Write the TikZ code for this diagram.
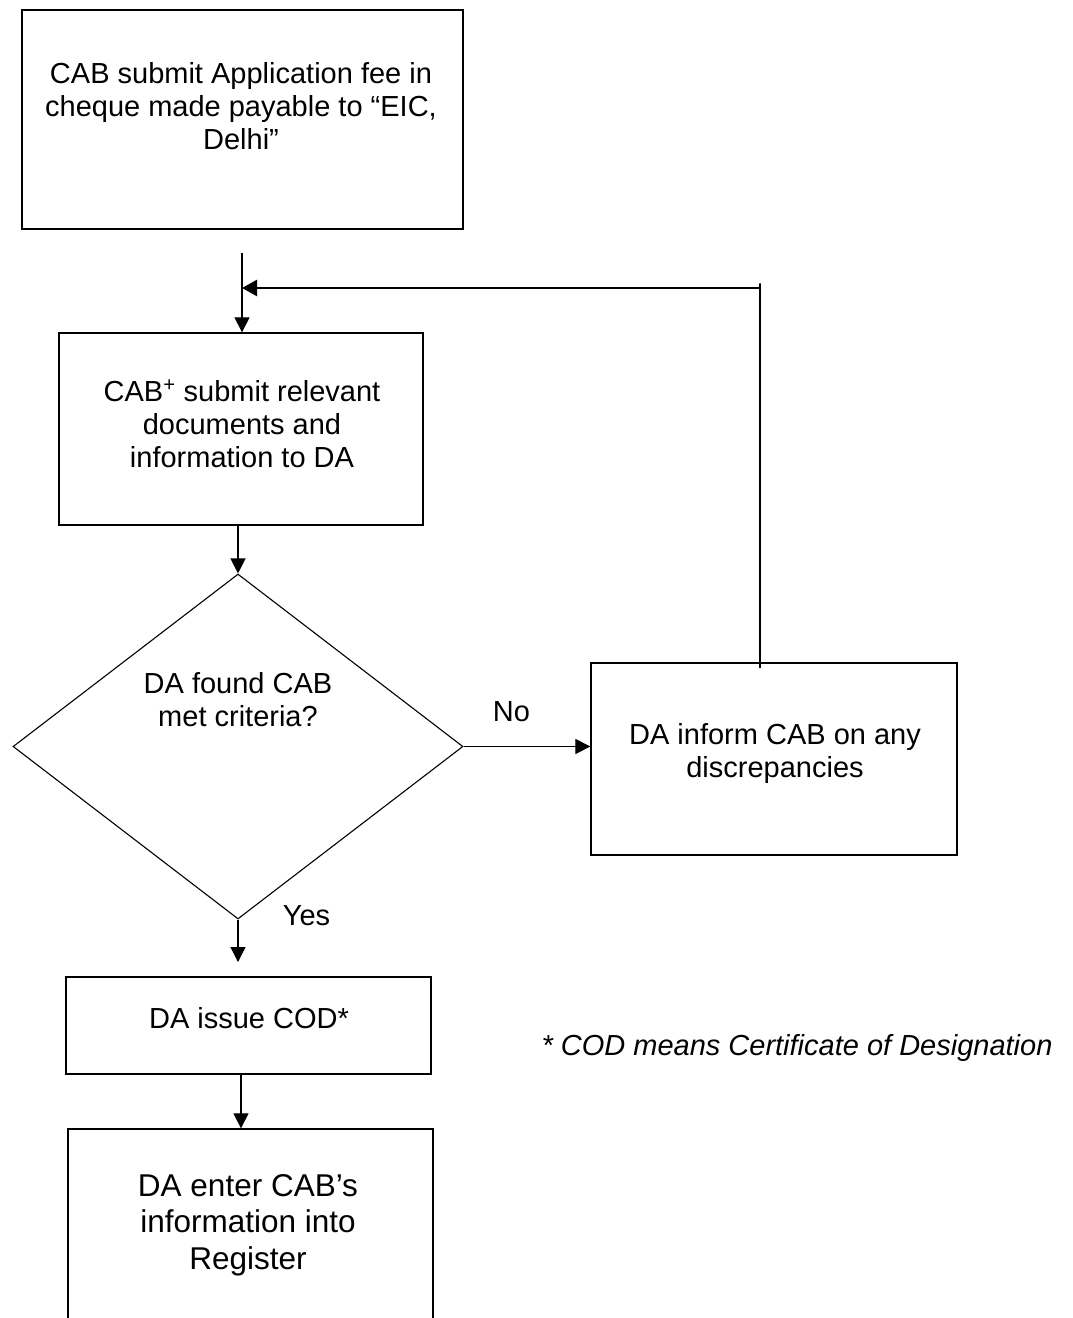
\documentclass[tikz,border=0pt]{standalone}
\usepackage{fontspec}
\setmainfont{Liberation Sans}
\usetikzlibrary{positioning,shapes.geometric,arrows.meta}
\begin{document}
\begin{tikzpicture}[x=1pt, y=-1pt,
   every node/.style={inner sep=0pt},
   box/.style={draw, line width=1.3pt},
   txt/.style={align=center, anchor=base, font=\fontsize{29pt}{33pt}\selectfont},
   big/.style={align=center, anchor=base, font=\fontsize{31.5pt}{36.5pt}\selectfont},
   arr/.style={line width=1.2pt, -{Triangle[length=15pt, width=15pt]}},
   fback/.style={line width=2.4pt, -{Triangle[length=15pt, width=16pt]}}]
\clip (0,0) rectangle (1073,1318);
\node[box, minimum width=441pt, minimum height=219pt] (fee) at (242.5,119.5) {};
\node[txt] (feetxt) at (241,149) {CAB submit Application fee in\\cheque made payable to “EIC,\\Delhi”};
\node[box, minimum width=364pt, minimum height=192pt] (docs) at (241,429) {};
\node[txt] (docstxt) at (242,467) {CAB\textsuperscript{+} submit relevant\\documents and\\information to DA};
\node[draw, diamond, line width=1.1pt, minimum width=450pt, minimum height=345pt] (dec) at (238,746.5) {};
\node[txt] (dectxt) at (238,726) {DA found CAB\\met criteria?};
\node[box, minimum width=366pt, minimum height=192pt] (disc) at (774,759) {};
\node[txt] (disctxt) at (775,777) {DA inform CAB on any\\discrepancies};
\node[box, minimum width=365pt, minimum height=97pt] (cod) at (248.5,1025.5) {};
\node[txt] (codtxt) at (249,1028) {DA issue COD*};
\node[box, minimum width=365pt, minimum height=230pt] (reg) at (250.5,1244) {};
\node[big] (regtxt) at (248,1269) {DA enter CAB’s\\information into\\Register};
\node[txt] (no) at (511.5,721) {No};
\node[txt] (yes) at (306.5,925) {Yes};
\node[txt, font=\fontsize{29pt}{33pt}\selectfont\itshape] (note) at (797,1055) {* COD means Certificate of Designation};
\coordinate (start) at (242,253);
\coordinate (join) at (242,288);
\coordinate (stop) at (238,962);
\draw[arr] (start) -- (start |- docs.north);
\draw[fback] ([xshift=-14pt, yshift=-6pt]disc.north) -- ++(0,-385) |- (join);
\draw[arr] (dec.north |- docs.south) -- (dec.north);
\draw[arr] (dec.east) -- (dec.east -| disc.west);
\draw[arr] (dec.south) -- (stop);
\draw[arr] ([xshift=-7.5pt]cod.south) -- ([xshift=-9.5pt]reg.north);
\end{tikzpicture}
\end{document}
